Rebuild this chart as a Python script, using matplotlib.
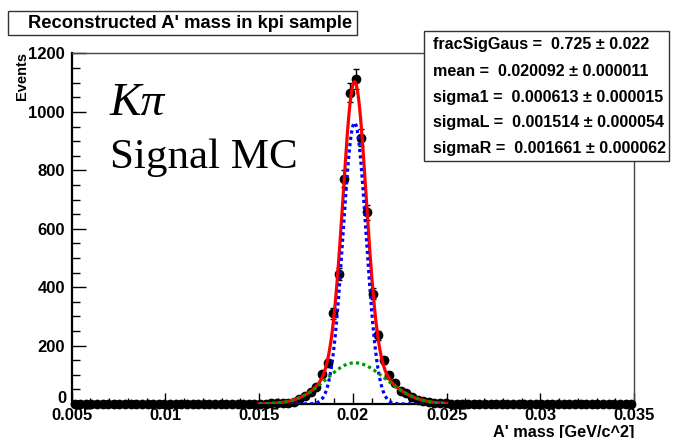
import matplotlib
matplotlib.use("Agg")
import matplotlib.pyplot as plt
import numpy as np
from matplotlib.patches import Rectangle
from matplotlib.ticker import MultipleLocator, FuncFormatter

plt.rcParams['font.family'] = ['Liberation Sans', 'DejaVu Sans']

# histogram binning: 100 bins of 0.0003 between 0.005 and 0.035
x_lo, x_hi, n_bins = 0.005, 0.035, 100
first_filled_bin = 33
# counts, bins 33..66 (all other bins are empty)
filled_counts = [1, 1, 2, 2, 3, 5, 8, 16, 27, 42, 58, 101, 142, 310, 444, 772,
                 1066, 1112, 912, 656, 378, 236, 150, 98, 73, 45, 36, 24, 15,
                 10, 7, 5, 3, 2]

# fit result (from the stats box), yield
frac_sig_gaus = 0.725
mean = 0.020092
sigma1 = 0.000613
sigma_l = 0.001514
sigma_r = 0.001661
n_events = 6800
fit_lo, fit_hi = 0.015, 0.025

param_names = ["fracSigGaus", "mean", "sigma1", "sigmaL", "sigmaR"]
param_values = ["0.725", "0.020092", "0.000613", "0.001514", "0.001661"]
param_errors = ["0.022", "0.000011", "0.000015", "0.000054", "0.000062"]

W, H = 673, 438
fig = plt.figure(figsize=(W / 100, H / 100), dpi=100)

def fx(px):
    return px / W

def fy(py):
    return 1 - py / H

ax = fig.add_axes([fx(71.7), fy(404), (634 - 71.7) / W, (404 - 53.5) / H])

edges = np.linspace(x_lo, x_hi, n_bins + 1)
centers = 0.5 * (edges[:-1] + edges[1:])
binw = edges[1] - edges[0]
counts = np.zeros(n_bins)
counts[first_filled_bin:first_filled_bin + len(filled_counts)] = filled_counts

yerr = np.sqrt(counts)
ax.errorbar(centers, counts, xerr=binw / 2, yerr=yerr, fmt='o', color='black',
            markersize=6, elinewidth=1, capsize=2, clip_on=False, zorder=3)

# fitted pdf components
xs = np.linspace(fit_lo, fit_hi, 1500)
gaus = n_events * binw * frac_sig_gaus * np.exp(-0.5 * ((xs - mean) / sigma1) ** 2) / (np.sqrt(2 * np.pi) * sigma1)
sig = np.where(xs < mean, sigma_l, sigma_r)
bifur = n_events * binw * (1 - frac_sig_gaus) * 2 / (np.sqrt(2 * np.pi) * (sigma_l + sigma_r)) \
    * np.exp(-0.5 * ((xs - mean) / sig) ** 2)

ax.plot(xs, gaus + bifur, color='red', lw=2.3, zorder=4)
ax.plot(xs, gaus, color='blue', lw=2.3, ls=(0, (1, 1)), zorder=5)
ax.plot(xs, bifur, color='#009900', lw=2.3, ls=(0, (1, 1)), zorder=5)

ax.set_xlim(x_lo, x_hi)
ax.set_ylim(0, 1200)
ax.xaxis.set_major_locator(MultipleLocator(0.005))
ax.xaxis.set_minor_locator(MultipleLocator(0.001))
ax.yaxis.set_major_locator(MultipleLocator(200))
ax.yaxis.set_minor_locator(MultipleLocator(50))
ax.xaxis.set_major_formatter(FuncFormatter(lambda v, p: f"{v:g}"))
# the "0" label is placed by hand below, a bit higher as in ROOT
ax.yaxis.set_major_formatter(FuncFormatter(lambda v, p: "" if v == 0 else f"{v:g}"))
ax.tick_params(axis='x', which='major', direction='in', length=8, width=1, pad=3)
ax.tick_params(axis='x', which='minor', direction='in', length=4, width=1)
ax.tick_params(axis='y', which='major', direction='in', length=10, width=1, pad=5)
ax.tick_params(axis='y', which='minor', direction='in', length=5.5, width=1)
for lab in ax.get_xticklabels() + ax.get_yticklabels():
    lab.set_fontweight('bold')
    lab.set_fontsize(12)
for side in ['left', 'bottom']:
    ax.spines[side].set_linewidth(1.6)
for side in ['top', 'right']:
    ax.spines[side].set_linewidth(1.0)
    ax.spines[side].set_color('#444444')

fig.text(fx(66), fy(398.5), "0", ha='right', va='center', fontsize=12,
         fontweight='bold')

fig.text(fx(634), fy(432), "A' mass [GeV/c^2]", ha='right', va='center',
         fontsize=11.7, fontweight='bold')
fig.text(fx(22), fy(52), "Events", rotation=90, ha='center', va='top',
         fontsize=10.5, fontweight='bold')

# title box
fig.add_artist(Rectangle((fx(8), fy(34.5)), (357 - 8) / W, (34.5 - 11) / H,
                         transform=fig.transFigure, facecolor='white',
                         edgecolor='#333333', lw=1))
fig.text(fx(190), fy(23), "Reconstructed A' mass in kpi sample", ha='center',
         va='center', fontsize=13.2, fontweight='bold')

# stats box
fig.add_artist(Rectangle((fx(423.5), fy(161)), (669 - 423.5) / W, (161 - 31) / H,
                         transform=fig.transFigure, facecolor='white',
                         edgecolor='#333333', lw=1, zorder=6))
line_y = [44, 72, 98, 123, 148]
for name, val, err, py in zip(param_names, param_values, param_errors, line_y):
    fig.text(fx(433), fy(py), f"{name} =  {val} \u00b1 {err}", ha='left',
             va='center', fontsize=11.6, fontweight='bold', zorder=7)

fig.text(fx(110), fy(104), "K\u03c0", fontfamily='Liberation Serif',
         style='italic', fontsize=34, va='center')
fig.text(fx(110), fy(158), "Signal MC", fontfamily='Liberation Serif',
         fontsize=31, va='center')

fig.savefig("out.png", dpi=100)
